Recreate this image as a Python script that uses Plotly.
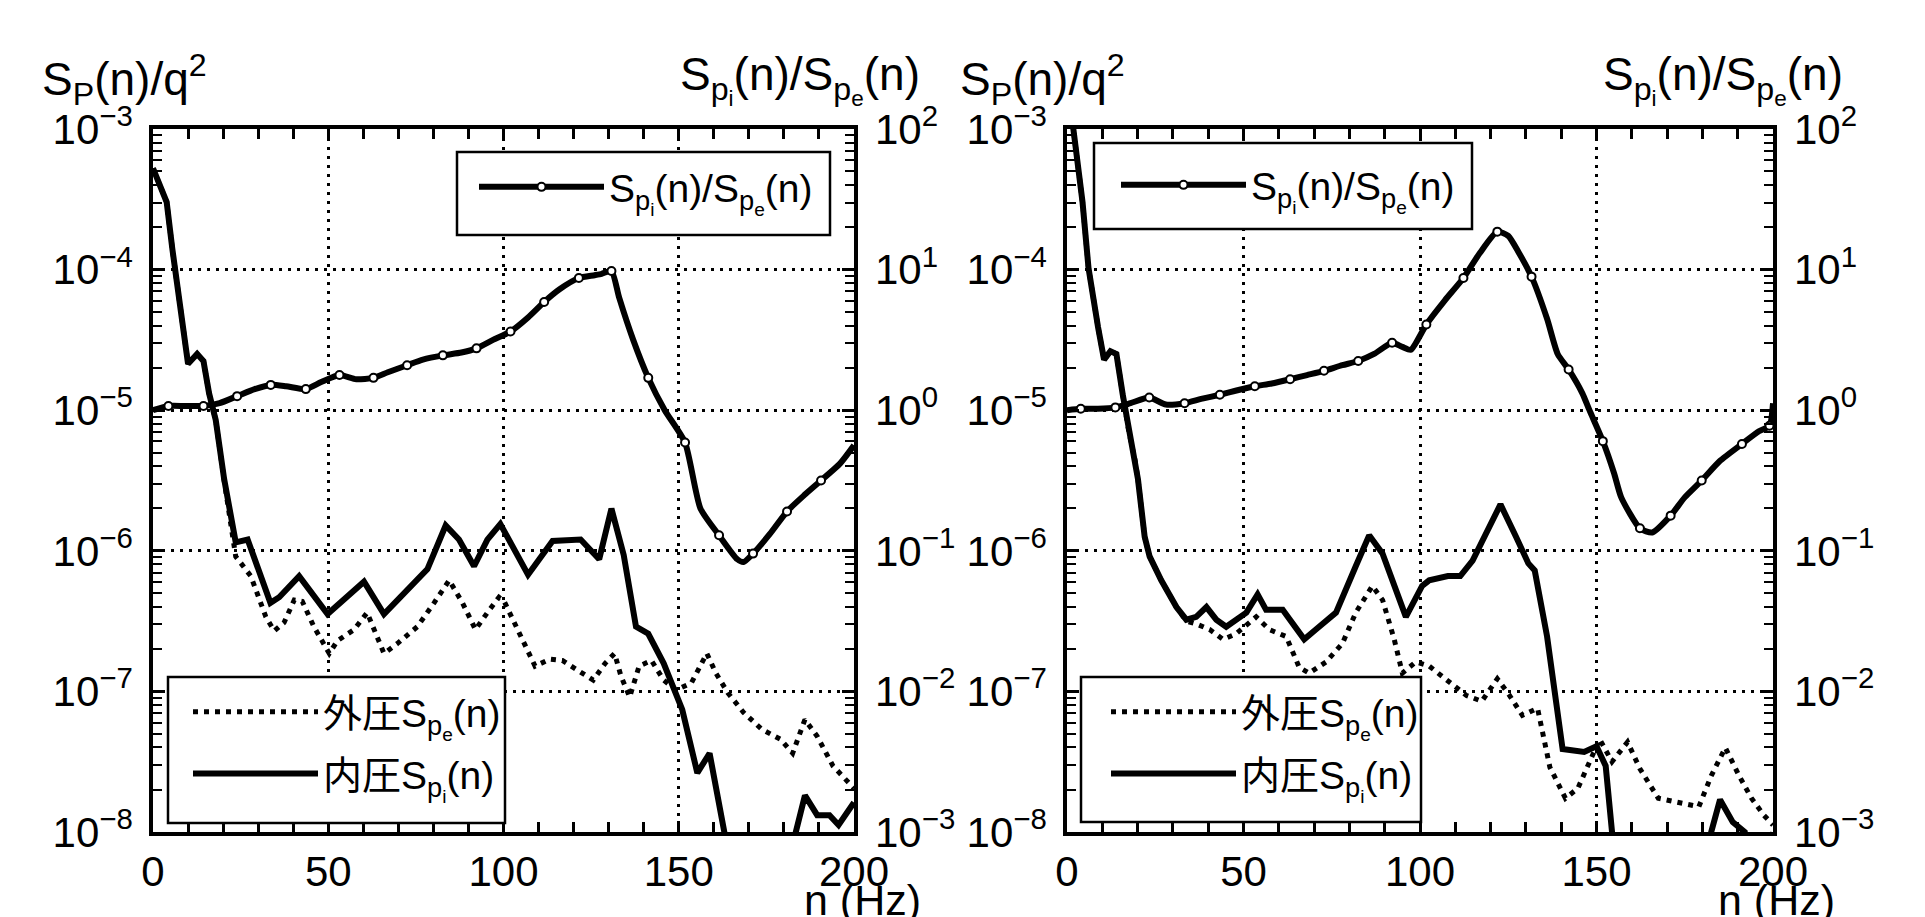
import plotly.graph_objects as go

W, H = 1925, 917

# ---------------- data (exponents: value = 10**exp) ----------------
# Left panel: internal pressure spectrum S_pi(n)/q^2
L_spi_n = [0, 2, 3.9, 5.5, 7.4, 10, 12.6, 14.4, 16, 17.9, 20.3, 23.6, 27, 29.8, 33.5, 36,
           41.7, 49.8, 55.5, 60.2, 65.9, 71.6, 78.3, 83.5, 87.3, 91.6, 95.4, 99.1, 103, 107,
           114, 122, 127.3, 130.8, 134.3, 137.8, 141.3, 145.7, 151, 155.3, 158.8, 161.5, 163,
           166, 181, 183.4, 186, 189.5, 193, 195.6, 200]
L_spi_exp = [-3.28, -3.40, -3.52, -3.85, -4.22, -4.67, -4.60, -4.65, -4.88, -5.07, -5.49, -5.94,
             -5.92, -6.11, -6.37, -6.33, -6.18, -6.45, -6.32, -6.22, -6.45, -6.30, -6.13, -5.82,
             -5.92, -6.11, -5.92, -5.81, -5.98, -6.17, -5.93, -5.92, -6.06, -5.70, -6.03, -6.54,
             -6.59, -6.80, -7.13, -7.58, -7.44, -7.81, -8.0, -8.6, -8.6, -8.0, -7.74, -7.88,
             -7.88, -7.95, -7.79]
# Left panel: external pressure spectrum S_pe(n)/q^2
L_spe_n = [0, 2, 3.9, 5.5, 7.4, 10, 12.6, 14.4, 16, 17.9, 20.3, 23.6, 27.9, 32.2, 34.6, 37.4,
           40.3, 42.6, 45.9, 48.8, 50.3, 52.6, 57.4, 61.1, 65.9, 69.7, 75.4, 80.2, 84.5, 88.3,
           92, 95.4, 98.7, 100.2, 104.6, 109, 113.3, 116.8, 121.2, 125.6, 129, 131.7, 133.5,
           136, 138.7, 142.2, 145.7, 149.2, 153.6, 158, 160.6, 164, 168.5, 173.7, 179, 182.5,
           186, 189.5, 194, 197.4, 200]
L_spe_exp = [-3.28, -3.40, -3.52, -3.85, -4.22, -4.67, -4.60, -4.65, -4.88, -5.07, -5.50, -6.04,
             -6.18, -6.47, -6.57, -6.51, -6.35, -6.36, -6.54, -6.67, -6.73, -6.64, -6.56, -6.44,
             -6.73, -6.66, -6.54, -6.37, -6.21, -6.37, -6.56, -6.44, -6.33, -6.36, -6.59, -6.82,
             -6.77, -6.78, -6.85, -6.92, -6.80, -6.73, -6.89, -7.04, -6.82, -6.78, -6.92, -6.99,
             -6.94, -6.73, -6.87, -7.01, -7.15, -7.27, -7.34, -7.44, -7.20, -7.32, -7.53, -7.62,
             -7.69]
# Left panel: ratio S_pi/S_pe (right axis)
L_ratio_n = [0, 4.4, 9, 14.4, 19, 24, 29, 33.6, 38, 43.6, 48, 53.2, 58, 62.9, 67, 72.5, 77, 82.7,
             88, 92.3, 97, 102, 107, 111.6, 116, 121.5, 126, 128, 130.8, 133, 137, 141.3, 146,
             151.8, 156.2, 161.5, 166.7, 168.5, 171.2, 176, 180.9, 186, 190.6, 196, 200]
L_ratio_exp = [0.00, 0.03, 0.03, 0.03, 0.05, 0.10, 0.15, 0.18, 0.17, 0.15, 0.20, 0.25, 0.22, 0.23,
               0.27, 0.32, 0.36, 0.39, 0.41, 0.44, 0.50, 0.56, 0.66, 0.77, 0.86, 0.94, 0.96, 0.97,
               0.99, 0.80, 0.50, 0.23, 0.00, -0.23, -0.70, -0.89, -1.06, -1.08, -1.02, -0.88,
               -0.72, -0.60, -0.50, -0.38, -0.25]
L_ratio_mark = [0, 1, 0, 1, 0, 1, 0, 1, 0, 1, 0, 1, 0, 1, 0, 1, 0, 1, 0, 1, 0, 1, 0, 1, 0, 1, 0, 0,
                1, 0, 0, 1, 0, 1, 0, 1, 0, 0, 1, 0, 1, 0, 1, 0, 0]

# Right panel: internal pressure spectrum
R_spi_n = [0, 1.8, 4.4, 6.1, 8.8, 10.5, 12.3, 14, 15.8, 17.5, 19.3, 20.1, 22, 23.4, 26.7, 31,
           33.8, 36.6, 39.5, 42.3, 45.1, 47.9, 50.8, 54, 56.4, 61.1, 67.2, 70.5, 76.2, 81.8,
           85.6, 89.4, 96, 100.6, 102.6, 107.9, 111.4, 114.9, 122.8, 127.2, 130.7, 132.5, 136,
           140.4, 146.5, 150, 152.6, 154.4, 156, 180, 182.5, 185, 188.6, 192, 194, 198, 200]
R_spi_exp = [-2.80, -3.00, -3.52, -3.99, -4.41, -4.64, -4.58, -4.60, -4.89, -5.15, -5.36, -5.49,
             -5.90, -6.04, -6.21, -6.40, -6.49, -6.47, -6.40, -6.49, -6.54, -6.49, -6.44, -6.31,
             -6.42, -6.42, -6.63, -6.56, -6.44, -6.11, -5.89, -6.02, -6.47, -6.25, -6.21, -6.18,
             -6.18, -6.07, -5.67, -5.90, -6.09, -6.14, -6.61, -7.41, -7.43, -7.39, -7.53, -8.0,
             -8.6, -8.6, -8.0, -7.77, -7.93, -8.0, -8.6, -8.6, -8.0]
# Right panel: external pressure spectrum
R_spe_n = [0, 1.8, 4.4, 6.1, 8.8, 10.5, 12.3, 14, 15.8, 17.5, 19.3, 20.1, 22, 23.4, 26.7, 31,
           33.8, 36.6, 40.4, 44.2, 47.9, 53.6, 57.3, 62.1, 65.8, 68.6, 73.4, 78, 81.8, 86.5,
           89.4, 92.7, 95, 98.8, 102.6, 107.9, 113.2, 117.5, 121.9, 125.4, 129, 133.3, 136.8,
           141.2, 144.7, 150.9, 154.4, 158.8, 162.3, 167.5, 173.7, 179, 182.5, 186.5, 190.4,
           193.9, 197.4, 200]
R_spe_exp = [-2.80, -3.00, -3.52, -3.99, -4.41, -4.64, -4.58, -4.60, -4.89, -5.15, -5.36, -5.49,
             -5.90, -6.04, -6.21, -6.40, -6.50, -6.52, -6.56, -6.63, -6.59, -6.47, -6.56, -6.61,
             -6.83, -6.87, -6.79, -6.66, -6.44, -6.25, -6.35, -6.63, -6.87, -6.79, -6.82, -6.93,
             -7.03, -7.07, -6.91, -7.03, -7.17, -7.12, -7.54, -7.76, -7.69, -7.34, -7.50, -7.36,
             -7.55, -7.76, -7.79, -7.82, -7.60, -7.40, -7.60, -7.76, -7.88, -7.95]
# Right panel: ratio
R_ratio_n = [0, 3.9, 8.8, 13.7, 18, 23.3, 28, 33.3, 38, 43.3, 48, 53.2, 58, 63.2, 68, 72.8, 78,
             82.5, 87, 92.1, 95, 97.4, 101.8, 107, 112.3, 117, 121.9, 125, 128, 131.6, 136, 139,
             142.1, 146, 148, 151.8, 155, 157, 162.3, 165.8, 171, 175, 179.8, 185, 191.2, 196,
             199, 200]
R_ratio_exp = [0.00, 0.01, 0.01, 0.02, 0.05, 0.09, 0.04, 0.05, 0.08, 0.11, 0.14, 0.17, 0.19, 0.22,
               0.25, 0.28, 0.32, 0.35, 0.40, 0.48, 0.45, 0.43, 0.61, 0.78, 0.94, 1.12, 1.27, 1.24,
               1.12, 0.95, 0.65, 0.40, 0.29, 0.12, 0.00, -0.22, -0.45, -0.62, -0.84, -0.87, -0.75,
               -0.62, -0.50, -0.36, -0.24, -0.15, -0.11, 0.05]
R_ratio_mark = [0, 1, 0, 1, 0, 1, 0, 1, 0, 1, 0, 1, 0, 1, 0, 1, 0, 1, 0, 1, 0, 0, 1, 0, 1, 0, 1, 0,
                0, 1, 0, 0, 1, 0, 0, 1, 0, 0, 1, 0, 1, 0, 1, 0, 1, 0, 1, 0]

x_ticks = [0, 50, 100, 150, 200]
y_left_ticks = [-8, -7, -6, -5, -4, -3]
y_right_ticks = [-3, -2, -1, 0, 1, 2]

FONT = "Liberation Sans, Arial, Noto Sans CJK JP"
LBL_RATIO = "S<sub>p<sub>i</sub></sub>(n)/S<sub>p<sub>e</sub></sub>(n)"
LBL_SPE = "外圧S<sub>p<sub>e</sub></sub>(n)"
LBL_SPI = "内圧S<sub>p<sub>i</sub></sub>(n)"
TITLE_L = "S<sub>P</sub>(n)/q<sup>2</sup>"


def pw(e):
    return [10 ** v for v in e]


def exp_text(k):
    s = str(k).replace("-", "\u2212")
    return "10<sup>" + s + "</sup>"


fig = go.Figure()

panels = [
    dict(xa="x", ya="y", ya2="y2", spi=(L_spi_n, L_spi_exp), spe=(L_spe_n, L_spe_exp),
         ratio=(L_ratio_n, L_ratio_exp, L_ratio_mark), lg_top="legend", lg_bot="legend2"),
    dict(xa="x2", ya="y3", ya2="y4", spi=(R_spi_n, R_spi_exp), spe=(R_spe_n, R_spe_exp),
         ratio=(R_ratio_n, R_ratio_exp, R_ratio_mark), lg_top="legend3", lg_bot="legend4"),
]

for p in panels:
    fig.add_trace(go.Scatter(x=p["spe"][0], y=pw(p["spe"][1]), xaxis=p["xa"], yaxis=p["ya"],
                             mode="lines", line=dict(color="black", width=5, dash="5px,6px"),
                             name=LBL_SPE, legend=p["lg_bot"], legendgroup="a" + p["lg_bot"]))
    fig.add_trace(go.Scatter(x=p["spi"][0], y=pw(p["spi"][1]), xaxis=p["xa"], yaxis=p["ya"],
                             mode="lines", line=dict(color="black", width=6),
                             name=LBL_SPI, legend=p["lg_bot"], legendgroup="b" + p["lg_bot"]))
    rn, re_, rm = p["ratio"]
    fig.add_trace(go.Scatter(x=rn, y=pw(re_), xaxis=p["xa"], yaxis=p["ya2"], mode="lines",
                             line=dict(color="black", width=6, shape="spline", smoothing=0.6),
                             showlegend=False))
    mk = [i for i, m in enumerate(rm) if m]
    fig.add_trace(go.Scatter(x=[rn[i] for i in mk], y=[10 ** re_[i] for i in mk],
                             xaxis=p["xa"], yaxis=p["ya2"], mode="markers",
                             marker=dict(symbol="circle", size=8, color="white",
                                         line=dict(color="black", width=2)),
                             showlegend=False))
    fig.add_trace(go.Scatter(x=[None], y=[None], xaxis=p["xa"], yaxis=p["ya2"],
                             mode="lines+markers", line=dict(color="black", width=6),
                             marker=dict(symbol="circle", size=8, color="white",
                                         line=dict(color="black", width=2)),
                             name=LBL_RATIO, legend=p["lg_top"]))

x_dom = [[153 / W, 854 / W], [1067 / W, 1773 / W]]
y_dom = [1 - 832 / H, 1 - 129 / H]

tickfont = dict(family=FONT, size=42, color="black")
grid = dict(showgrid=True, gridcolor="black", gridwidth=2.5, griddash="3px,6px")

xcommon = dict(range=[0, 200], tickmode="array", tickvals=x_ticks,
               ticktext=[str(v) for v in x_ticks], ticks="inside", ticklen=11, tickwidth=2.5,
               tickcolor="black", showline=True, linecolor="black", linewidth=3.5, mirror="ticks",
               zeroline=False, tickfont=tickfont, ticklabelstandoff=0,
               minor=dict(tickmode="array", tickvals=list(range(0, 201, 10)), ticks="inside",
                          ticklen=10, tickwidth=2.5, tickcolor="black", showgrid=False),
               **grid)

minor_left = [k * 10 ** e for e in range(-8, -3) for k in range(2, 10)]


def yleft():
    return dict(type="log", range=[-8, -3], tickmode="array",
                tickvals=[10 ** v for v in y_left_ticks],
                ticktext=[exp_text(v) for v in y_left_ticks],
                ticks="inside", ticklen=12, tickwidth=2.5, tickcolor="black", showline=True,
                linecolor="black", linewidth=3.5, mirror="ticks", zeroline=False,
                tickfont=tickfont, ticklabelstandoff=8, ticklabelshift=0,
                minor=dict(tickmode="array", tickvals=minor_left, ticks="inside", ticklen=9,
                           tickwidth=2, tickcolor="black", showgrid=False),
                **grid)


def yright(over, anchor):
    return dict(type="log", range=[-3, 2], tickmode="array",
                tickvals=[10 ** v for v in y_right_ticks],
                ticktext=[exp_text(v) for v in y_right_ticks],
                overlaying=over, side="right", anchor=anchor, ticks="", showgrid=False,
                showline=False, zeroline=False, tickfont=tickfont, ticklabelstandoff=20,
                ticklabelshift=0)


fig.update_layout(
    width=W, height=H, margin=dict(l=0, r=0, t=0, b=0, autoexpand=False),
    paper_bgcolor="white", plot_bgcolor="white", showlegend=True,
    xaxis=dict(domain=x_dom[0], anchor="y", **xcommon),
    xaxis2=dict(domain=x_dom[1], anchor="y3", **xcommon),
    yaxis=dict(domain=y_dom, anchor="x", **yleft()),
    yaxis3=dict(domain=y_dom, anchor="x2", **yleft()),
    yaxis2=yright("y", "x"),
    yaxis4=yright("y3", "x2"),
)

lfont = dict(family=FONT, size=39, color="black")
legend_common = dict(bgcolor="rgba(0,0,0,0)", borderwidth=0, font=lfont, xanchor="left",
                     yanchor="top", itemwidth=125, traceorder="grouped", tracegroupgap=8,
                     itemclick=False)
fig.update_layout(
    legend=dict(x=474 / W, y=1 - 155 / H, **legend_common),
    legend2=dict(x=188 / W, y=1 - 680 / H, **legend_common),
    legend3=dict(x=1116 / W, y=1 - 153 / H, **legend_common),
    legend4=dict(x=1106 / W, y=1 - 680 / H, **legend_common),
)

boxes = [(457, 152, 830, 235), (168, 677, 505, 823), (1094, 143, 1472, 229), (1081, 677, 1421, 822)]
for x0, y0, x1, y1 in boxes:
    fig.add_shape(type="rect", xref="paper", yref="paper", x0=x0 / W, x1=x1 / W,
                  y0=1 - y1 / H, y1=1 - y0 / H, fillcolor="white",
                  line=dict(color="black", width=2.5), layer="above")

tfont = dict(family=FONT, size=46, color="black")
nfont = dict(family=FONT, size=43, color="black")
ann = [
    (125, 80, TITLE_L, "center", "middle", tfont),
    (922, 80, LBL_RATIO, "right", "middle", tfont),
    (1042, 80, TITLE_L, "center", "middle", tfont),
    (1845, 80, LBL_RATIO, "right", "middle", tfont),
    (862, 874, "n (Hz)", "center", "top", nfont),
    (1776, 874, "n (Hz)", "center", "top", nfont),
]
for x, y, t, xa, ya, f in ann:
    fig.add_annotation(x=x / W, y=1 - y / H, xref="paper", yref="paper", text=t,
                       showarrow=False, xanchor=xa, yanchor=ya, font=f)

fig.write_html("out.html")
